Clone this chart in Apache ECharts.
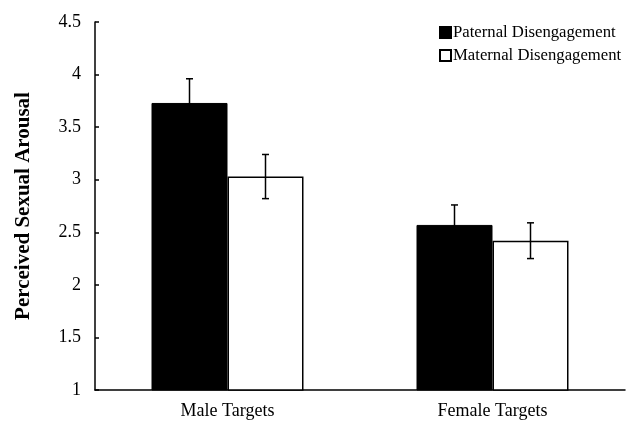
<!DOCTYPE html>
<html>
<head>
<meta charset="utf-8">
<script src="https://cdn.jsdelivr.net/npm/echarts@6/dist/echarts.min.js"></script>
<style>html,body{margin:0;padding:0;background:#fff}#c{width:639px;height:422px}</style>
</head>
<body>
<div id="c"></div>
<script>
var categories = ['Male Targets', 'Female Targets'];
var seriesNames = ['Paternal Disengagement', 'Maternal Disengagement'];
var paternal = [3.73, 2.57];
var maternal = [3.03, 2.42];
var paternalErr = [0.23, 0.19];
var maternalErr = [0.21, 0.17];
var yTicks = [1, 1.5, 2, 2.5, 3, 3.5, 4, 4.5];

var FONT = '"Liberation Serif", "DejaVu Serif", serif';

function errData(vals, errs, idx) {
  return vals.map(function (v, i) { return [i, v - errs[i], v + errs[i], idx]; });
}

function renderErr(params, api) {
  var ci = api.value(0);
  var lo = api.coord([ci, api.value(1)]);
  var hi = api.coord([ci, api.value(2)]);
  var barW = 76;
  var offset = api.value(3) === 0 ? -barW / 2 : barW / 2;
  var x = lo[0] + offset;
  var cap = 3.5;
  var st = { stroke: '#000', lineWidth: 1.5 };
  return {
    type: 'group',
    children: [
      { type: 'line', shape: { x1: x, y1: lo[1], x2: x, y2: hi[1] }, style: st },
      { type: 'line', shape: { x1: x - cap, y1: lo[1], x2: x + cap, y2: lo[1] }, style: st },
      { type: 'line', shape: { x1: x - cap, y1: hi[1], x2: x + cap, y2: hi[1] }, style: st }
    ]
  };
}

var chart = echarts.init(document.getElementById('c'));
chart.setOption({
  animation: false,
  backgroundColor: '#fff',
  grid: { left: 95, right: 14, top: 22, bottom: 32 },
  legend: {
    orient: 'vertical',
    left: 434,
    top: 19,
    itemWidth: 11,
    itemHeight: 11,
    itemGap: 6,
    icon: 'rect',
    data: seriesNames,
    textStyle: { fontFamily: FONT, fontSize: 16.7, color: '#000', padding: [0, 0, 0, -3] }
  },
  xAxis: {
    type: 'category',
    data: categories,
    axisLine: { lineStyle: { color: '#000', width: 1.5 } },
    axisTick: { show: false },
    axisLabel: { fontFamily: FONT, fontSize: 18, color: '#000', margin: 12 }
  },
  yAxis: {
    type: 'value',
    min: 1,
    max: 4.5,
    interval: 0.5,
    name: 'Perceived Sexual Arousal',
    nameLocation: 'middle',
    nameGap: 61,
    nameTextStyle: { fontFamily: FONT, fontSize: 21, fontWeight: 'bold', color: '#000' },
    axisLine: { show: true, lineStyle: { color: '#000', width: 1.5 } },
    axisTick: { show: true, inside: true, length: 4, lineStyle: { color: '#000', width: 1.5 } },
    splitLine: { show: false },
    axisLabel: {
      fontFamily: FONT, fontSize: 18, color: '#000', margin: 14,
      formatter: function (v) { return yTicks.indexOf(v) >= 0 ? String(v) : ''; }
    }
  },
  series: [
    {
      name: seriesNames[0], type: 'bar', data: paternal, barWidth: 76, barGap: '0%',
      itemStyle: { color: '#000', borderColor: '#000', borderWidth: 1 }
    },
    {
      name: seriesNames[1], type: 'bar', data: maternal, barWidth: 76, barGap: '0%',
      itemStyle: { color: '#fff', borderColor: '#000', borderWidth: 1.5 }
    },
    {
      type: 'custom', renderItem: renderErr, data: errData(paternal, paternalErr, 0),
      encode: { x: 0, y: [1, 2] }, z: 10, silent: true
    },
    {
      type: 'custom', renderItem: renderErr, data: errData(maternal, maternalErr, 1),
      encode: { x: 0, y: [1, 2] }, z: 10, silent: true
    }
  ]
});
</script>
</body>
</html>
